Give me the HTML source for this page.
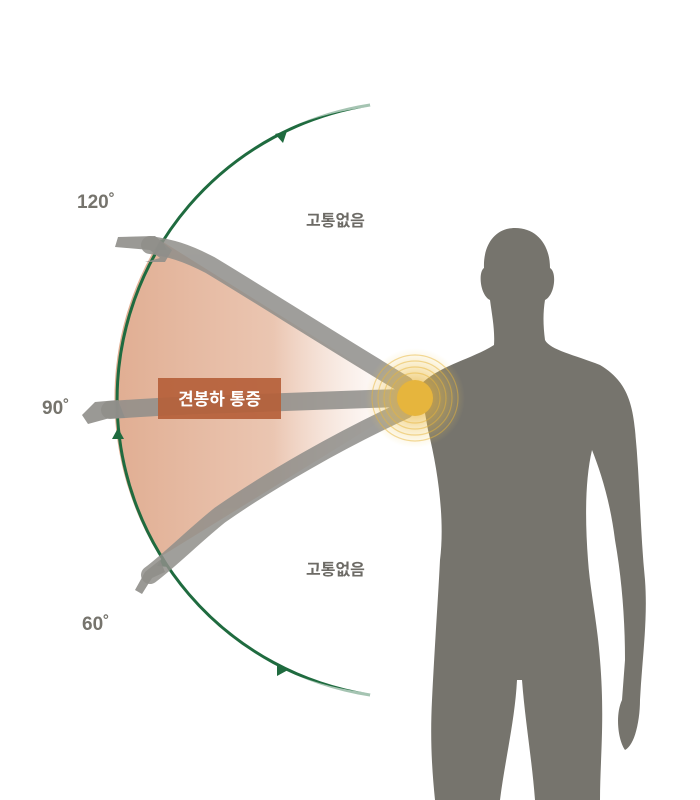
<!DOCTYPE html>
<html><head><meta charset="utf-8"><style>
html,body{margin:0;padding:0;background:#fff;}
svg{display:block}
text{font-family:"Liberation Sans","Noto Sans CJK KR",sans-serif;}
</style></head><body>
<svg width="700" height="800" viewBox="0 0 700 800" xmlns="http://www.w3.org/2000/svg">
<defs>
<linearGradient id="wg" x1="118" y1="0" x2="400" y2="0" gradientUnits="userSpaceOnUse">
<stop offset="0" stop-color="#d99a78" stop-opacity="0.8"/>
<stop offset="0.55" stop-color="#e2ad90" stop-opacity="0.7"/>
<stop offset="1" stop-color="#f3d7c8" stop-opacity="0"/>
</linearGradient>
<radialGradient id="glow" cx="415" cy="398" r="50" gradientUnits="userSpaceOnUse">
<stop offset="0.35" stop-color="#e8b53c" stop-opacity="0.6"/><stop offset="1" stop-color="#f3d36a" stop-opacity="0"/></radialGradient>
</defs>
<path d="M415,400 L160,240 A298.5,298.5 0 0 0 160,557 Z" fill="url(#wg)"/>
<path d="M370,105 A298.5,298.5 0 0 0 370,695" fill="none" stroke="#1f6b3f" stroke-width="3"/>
<path d="M370,105 A298.5,298.5 0 0 0 290,125" fill="none" stroke="#fff" stroke-width="4" opacity="0.6"/>
<path d="M370,695 A298.5,298.5 0 0 1 290,675" fill="none" stroke="#fff" stroke-width="4" opacity="0.6"/>
<polygon points="275,134 287,131 283,143" fill="#1f6b3f"/>
<polygon points="161,239 167,250 155,250" fill="#1f6b3f"/>
<polygon points="118,428 124,439 112,439" fill="#1f6b3f"/>
<polygon points="163,556 169,567 157,566" fill="#1f6b3f"/>
<polygon points="277,664 288,670 277,676" fill="#1f6b3f"/>
<path d="M515,228 C495,228 483,245 484,268 C478,272 480,295 490,300 C492,315 495,330 494,345 C470,360 440,365 420,385 L428,430 C438,470 445,520 440,560 C438,600 435,640 432,700 C430,740 432,770 435,800 L500,800 C505,760 515,720 517,680 L522,680 C525,720 532,760 535,800 L600,800 C600,760 605,720 600,660 C597,620 590,590 588,560 C585,520 585,480 592,450 C600,470 610,500 615,540 C622,580 625,620 625,660 L622,700 C615,715 618,740 625,750 C635,745 640,720 640,700 C642,660 648,620 645,580 C640,530 640,480 635,430 C632,400 625,380 600,365 C575,355 550,350 545,340 C543,325 543,312 545,300 C555,295 557,272 550,268 C550,245 537,228 515,228 Z" fill="#76746d"/>
<g fill="none" stroke="#8f8e8a" stroke-linecap="round" opacity="0.85">
<path d="M405,385 C330,340 260,295 210,265 C185,252 170,248 150,245" stroke-width="18"/>
<path d="M405,398 C330,400 250,403 200,405 C170,406 140,408 110,410" stroke-width="18"/>
<path d="M405,410 C340,440 270,480 220,515 C195,535 170,560 150,575" stroke-width="18"/>
</g>
<g fill="#8f8e8a" opacity="0.9">
<path d="M155,236 L118,237 L115,247 L150,250 L160,258 L145,262 L165,262 L172,250 Z"/>
<path d="M118,400 L95,402 L82,415 L88,424 L110,418 L125,418 Z"/>
<path d="M160,560 L145,572 L135,590 L142,594 L152,578 L165,572 Z"/>
</g>
<rect x="158" y="378" width="123" height="41" fill="#b5603a" opacity="0.92"/>
<text x="219.5" y="405" font-size="17" font-weight="bold" fill="#fff" text-anchor="middle">견봉하 통증</text>
<circle cx="415" cy="398" r="50" fill="url(#glow)"/>
<g fill="none" stroke="#e8b53c" stroke-opacity="0.5" stroke-width="1.2">
<circle cx="415" cy="398" r="25"/><circle cx="415" cy="398" r="31"/><circle cx="415" cy="398" r="37"/><circle cx="415" cy="398" r="43"/>
</g>
<circle cx="415" cy="398" r="18" fill="#e6b53d"/>
<g font-size="19" font-weight="bold" fill="#76746d">
<text x="77" y="208">120˚</text>
<text x="42" y="414">90˚</text>
<text x="82" y="630">60˚</text>
</g>
<g font-size="16" font-weight="bold" fill="#6d6b66">
<text x="306" y="226">고통없음</text>
<text x="306" y="575">고통없음</text>
</g>
</svg>
</body></html>
